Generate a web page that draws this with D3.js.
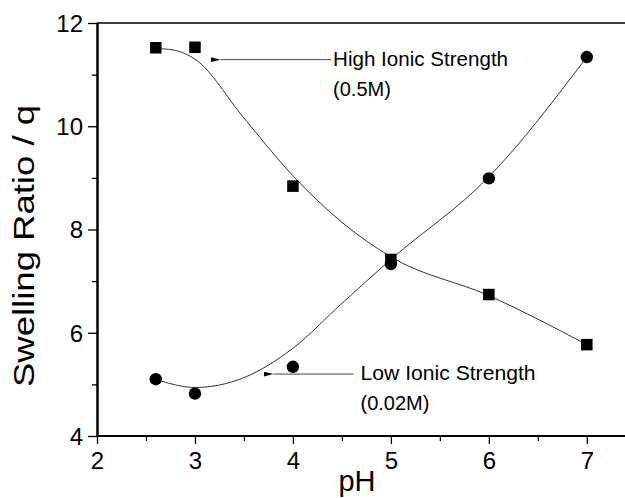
<!DOCTYPE html>
<html>
<head>
<meta charset="utf-8">
<script src="https://cdn.jsdelivr.net/npm/d3@7"></script>
<style>
  html, body { margin: 0; padding: 0; background: #fff; }
  svg { display: block; font-family: "Liberation Sans", Arial, sans-serif; }
</style>
</head>
<body>
<div id="chart"></div>
<script>
//measured points
const pH = [2.6, 3, 4, 5, 6, 7];
const highIonic = [11.52, 11.53, 8.84, 7.42, 6.74, 5.77];
const lowIonic = [5.1, 4.82, 5.34, 7.33, 8.99, 11.34];

//fitted curves
const highFitPH = [2.66, 2.8, 3, 3.5, 4, 4.5, 5, 6, 7];
const highFit = [11.5, 11.47, 11.3, 10.16, 9.04, 8.14, 7.47, 6.72, 5.77];
const lowFitPH = [2.66, 3, 3.5, 4, 4.5, 5, 6, 7];
const lowFit = [5.06, 4.94, 5.13, 5.7, 6.57, 7.42, 9.02, 11.34];

//axis ticks
const xTicks = [2, 3, 4, 5, 6, 7];
const xMinor = [2.5, 3.5, 4.5, 5.5, 6.5];
const yTicks = [4, 6, 8, 10, 12];
const yMinor = [5, 7, 9, 11];

//annotations
const notes = [
  { lines: ["High Ionic Strength", "(0.5M)"], from: 4.39, to: 3.16, y: 11.29, tx: 4.41 },
  { lines: ["Low Ionic Strength", "(0.02M)"], from: 4.62, to: 3.7, y: 5.2, tx: 4.69 },
];

const width = 625;
const height = 498;

const x = d3.scaleLinear().domain([2, 7.4]).range([97, 626]);
const y = d3.scaleLinear().domain([4, 12]).range([436, 23]);

const svg = d3
  .select("#chart")
  .append("svg")
  .attr("width", width)
  .attr("height", height);

//arrow head
svg
  .append("defs")
  .append("marker")
  .attr("id", "head")
  .attr("viewBox", "0 0 10 5")
  .attr("refX", 0)
  .attr("refY", 2.5)
  .attr("markerWidth", 10)
  .attr("markerHeight", 5)
  .attr("markerUnits", "userSpaceOnUse")
  .attr("orient", "auto-start-reverse")
  .append("path")
  .attr("d", "M10,0 L0,2.5 L10,5 Z")
  .attr("fill", "#000");

//top frame line
svg
  .append("line")
  .attr("x1", x(2))
  .attr("x2", width)
  .attr("y1", y(12))
  .attr("y2", y(12))
  .attr("stroke", "#000")
  .attr("stroke-width", 1.5);

//x axis
const gx = svg.append("g").attr("transform", `translate(0,${y(4)})`);
gx.call(
  d3
    .axisBottom(x)
    .tickValues(xTicks)
    .tickFormat(d3.format("d"))
    .tickSize(8)
    .tickSizeOuter(0)
    .tickPadding(8)
);
gx.append("g").call(
  d3.axisBottom(x).tickValues(xMinor).tickSize(5).tickSizeOuter(0).tickFormat("")
);
gx.selectAll(".domain").attr("stroke-width", 2).attr("d", `M${x(2)},0H${width}`);

//y axis
const gy = svg.append("g").attr("transform", `translate(${x(2)},0)`);
gy.call(
  d3
    .axisLeft(y)
    .tickValues(yTicks)
    .tickFormat(d3.format("d"))
    .tickSize(9)
    .tickSizeOuter(0)
    .tickPadding(5)
);
gy.append("g").call(
  d3.axisLeft(y).tickValues(yMinor).tickSize(5).tickSizeOuter(0).tickFormat("")
);
gy.selectAll(".domain").attr("stroke-width", 2);

svg.selectAll(".tick line").attr("stroke", "#000").attr("stroke-width", 1.3);
svg
  .selectAll(".tick text")
  .attr("font-size", 24)
  .attr("fill", "#000")
  .attr("font-family", "Liberation Sans, Arial, sans-serif");
gy.selectAll(".tick text").attr("dy", "0.35em");

//axis titles
svg
  .append("text")
  .attr("x", 357)
  .attr("y", 491)
  .attr("text-anchor", "middle")
  .attr("font-size", 29)
  .text("pH");

svg
  .append("text")
  .attr("transform", `translate(34,246) rotate(-90)`)
  .attr("text-anchor", "middle")
  .attr("font-size", 29)
  .attr("textLength", 282)
  .attr("lengthAdjust", "spacingAndGlyphs")
  .text("Swelling Ratio / q");

//fitted curves
const line = d3
  .line()
  .x((d) => x(d[0]))
  .y((d) => y(d[1]))
  .curve(d3.curveMonotoneX);

[
  [highFitPH, highFit],
  [lowFitPH, lowFit],
].forEach(([xs, ys]) => {
  svg
    .append("path")
    .attr("d", line(xs.map((p, i) => [p, ys[i]])))
    .attr("fill", "none")
    .attr("stroke", "#333")
    .attr("stroke-width", 1);
});

//squares: high ionic strength
svg
  .selectAll("rect.high")
  .data(pH.map((p, i) => [p, highIonic[i]]))
  .join("rect")
  .attr("class", "high")
  .attr("x", (d) => x(d[0]) - 5.75)
  .attr("y", (d) => y(d[1]) - 5.75)
  .attr("width", 11.5)
  .attr("height", 11.5)
  .attr("fill", "#000");

//circles: low ionic strength
svg
  .selectAll("circle.low")
  .data(pH.map((p, i) => [p, lowIonic[i]]))
  .join("circle")
  .attr("class", "low")
  .attr("cx", (d) => x(d[0]))
  .attr("cy", (d) => y(d[1]))
  .attr("r", 6.2)
  .attr("fill", "#000");

//annotation arrows and labels
notes.forEach((n) => {
  svg
    .append("line")
    .attr("x1", x(n.from))
    .attr("x2", x(n.to) + 10)
    .attr("y1", y(n.y))
    .attr("y2", y(n.y))
    .attr("stroke", "#444")
    .attr("stroke-width", 1)
    .attr("marker-end", "url(#head)");

  svg
    .append("text")
    .attr("x", x(n.tx))
    .attr("y", y(n.y) + 6)
    .attr("font-size", 20)
    .attr("textLength", 175)
    .attr("lengthAdjust", "spacingAndGlyphs")
    .text(n.lines[0]);

  svg
    .append("text")
    .attr("x", x(n.tx))
    .attr("y", y(n.y) + 36)
    .attr("font-size", 20)
    .text(n.lines[1]);
});
</script>
</body>
</html>
